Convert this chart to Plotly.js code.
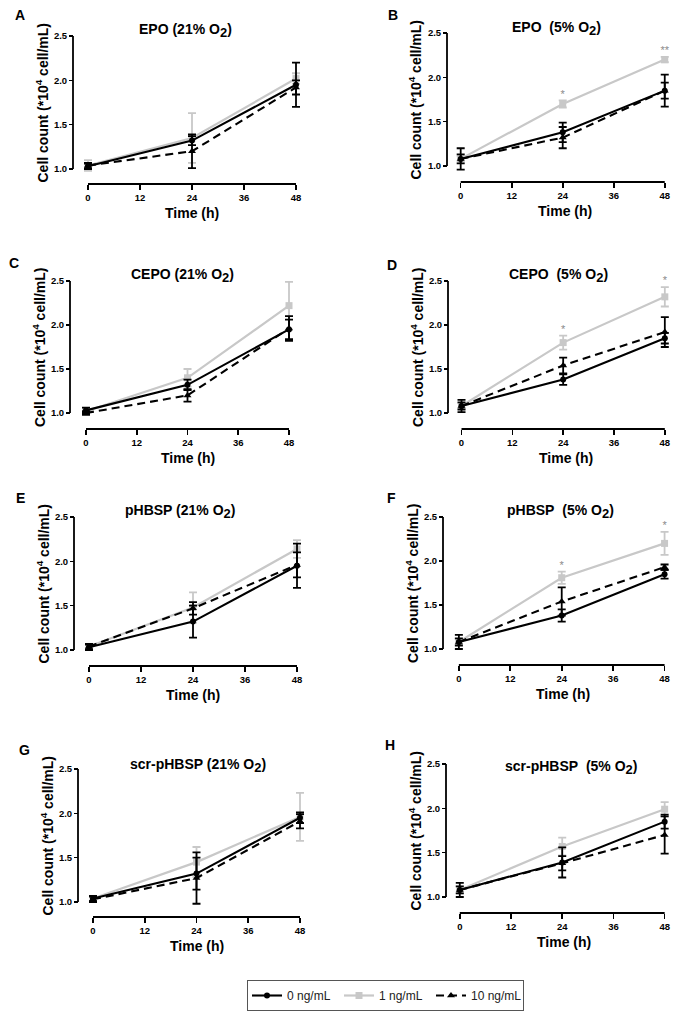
<!DOCTYPE html>
<html>
<head>
<meta charset="utf-8">
<script src="https://cdn.plot.ly/plotly-3.0.1.min.js"></script>
<style>html,body{margin:0;padding:0;background:#fff;}#chart{width:686px;height:1019px;}</style>
</head>
<body>
<div id="chart"></div>
<script>
// ---------- data ----------
const time = [0, 24, 48];
const xTicks = [0, 12, 24, 36, 48];
const yTicks = [1.0, 1.5, 2.0, 2.5];
const yTickText = ['1.0', '1.5', '2.0', '2.5'];
const seriesNames = ['0 ng/mL', '1 ng/mL', '10 ng/mL'];
const panelLetters = ['A', 'B', 'C', 'D', 'E', 'F', 'G', 'H'];
const O2 = 'O<sub><span style="font-size:13px">2</span></sub>';
const panelTitles = [
  'EPO (21% ' + O2 + ')', 'EPO\u00a0 (5% ' + O2 + ')',
  'CEPO (21% ' + O2 + ')', 'CEPO\u00a0 (5% ' + O2 + ')',
  'pHBSP (21% ' + O2 + ')', 'pHBSP\u00a0 (5% ' + O2 + ')',
  'scr-pHBSP (21% ' + O2 + ')', 'scr-pHBSP\u00a0 (5% ' + O2 + ')'
];
const yTitle = 'Cell count (*10<sup>4</sup> cell/mL)';
const xTitle = 'Time (h)';

// EPO 21%
const epo21_0 = [1.03, 1.32, 1.95], epo21_0_sd = [0.03, 0.05, 0.25];
const epo21_1 = [1.04, 1.35, 2.02], epo21_1_sd = [0.06, 0.28, 0.06];
const epo21_10 = [1.04, 1.20, 1.92], epo21_10_sd = [0.03, 0.19, 0.08];
const epo21_sig = ['', '', ''];
// EPO 5%
const epo5_0 = [1.08, 1.38, 1.85], epo5_0_sd = [0.12, 0.11, 0.18];
const epo5_1 = [1.08, 1.70, 2.20], epo5_1_sd = [0.03, 0.04, 0.03];
const epo5_10 = [1.08, 1.32, 1.85], epo5_10_sd = [0.05, 0.12, 0.09];
const epo5_sig = ['', '*', '**'];
// CEPO 21%
const cepo21_0 = [1.03, 1.32, 1.95], cepo21_0_sd = [0.03, 0.06, 0.11];
const cepo21_1 = [1.02, 1.40, 2.22], cepo21_1_sd = [0.03, 0.10, 0.27];
const cepo21_10 = [1.00, 1.20, 1.96], cepo21_10_sd = [0.02, 0.07, 0.14];
const cepo21_sig = ['', '', ''];
// CEPO 5%
const cepo5_0 = [1.08, 1.38, 1.85], cepo5_0_sd = [0.07, 0.06, 0.06];
const cepo5_1 = [1.08, 1.80, 2.32], cepo5_1_sd = [0.03, 0.08, 0.11];
const cepo5_10 = [1.08, 1.54, 1.92], cepo5_10_sd = [0.04, 0.09, 0.17];
const cepo5_sig = ['', '*', '*'];
// pHBSP 21%
const phbsp21_0 = [1.03, 1.32, 1.95], phbsp21_0_sd = [0.03, 0.18, 0.25];
const phbsp21_1 = [1.04, 1.48, 2.14], phbsp21_1_sd = [0.03, 0.17, 0.10];
const phbsp21_10 = [1.04, 1.47, 1.96], phbsp21_10_sd = [0.03, 0.07, 0.14];
const phbsp21_sig = ['', '', ''];
// pHBSP 5%
const phbsp5_0 = [1.08, 1.38, 1.85], phbsp5_0_sd = [0.08, 0.07, 0.05];
const phbsp5_1 = [1.08, 1.81, 2.20], phbsp5_1_sd = [0.03, 0.07, 0.13];
const phbsp5_10 = [1.08, 1.54, 1.93], phbsp5_10_sd = [0.04, 0.16, 0.03];
const phbsp5_sig = ['', '*', '*'];
// scr-pHBSP 21%
const scr21_0 = [1.04, 1.32, 1.95], scr21_0_sd = [0.03, 0.18, 0.06];
const scr21_1 = [1.04, 1.45, 1.96], scr21_1_sd = [0.03, 0.17, 0.27];
const scr21_10 = [1.03, 1.27, 1.91], scr21_10_sd = [0.03, 0.29, 0.08];
const scr21_sig = ['', '', ''];
// scr-pHBSP 5%
const scr5_0 = [1.08, 1.39, 1.85], scr5_0_sd = [0.08, 0.17, 0.08];
const scr5_1 = [1.08, 1.57, 1.99], scr5_1_sd = [0.04, 0.10, 0.08];
const scr5_10 = [1.08, 1.38, 1.70], scr5_10_sd = [0.04, 0.08, 0.21];
const scr5_sig = ['', '', ''];

const panelData = [
  {m0: epo21_0, s0: epo21_0_sd, m1: epo21_1, s1: epo21_1_sd, m10: epo21_10, s10: epo21_10_sd, sig: epo21_sig},
  {m0: epo5_0, s0: epo5_0_sd, m1: epo5_1, s1: epo5_1_sd, m10: epo5_10, s10: epo5_10_sd, sig: epo5_sig},
  {m0: cepo21_0, s0: cepo21_0_sd, m1: cepo21_1, s1: cepo21_1_sd, m10: cepo21_10, s10: cepo21_10_sd, sig: cepo21_sig},
  {m0: cepo5_0, s0: cepo5_0_sd, m1: cepo5_1, s1: cepo5_1_sd, m10: cepo5_10, s10: cepo5_10_sd, sig: cepo5_sig},
  {m0: phbsp21_0, s0: phbsp21_0_sd, m1: phbsp21_1, s1: phbsp21_1_sd, m10: phbsp21_10, s10: phbsp21_10_sd, sig: phbsp21_sig},
  {m0: phbsp5_0, s0: phbsp5_0_sd, m1: phbsp5_1, s1: phbsp5_1_sd, m10: phbsp5_10, s10: phbsp5_10_sd, sig: phbsp5_sig},
  {m0: scr21_0, s0: scr21_0_sd, m1: scr21_1, s1: scr21_1_sd, m10: scr21_10, s10: scr21_10_sd, sig: scr21_sig},
  {m0: scr5_0, s0: scr5_0_sd, m1: scr5_1, s1: scr5_1_sd, m10: scr5_10, s10: scr5_10_sd, sig: scr5_sig}
];

// ---------- geometry (pixels in the 686x1019 page) ----------
const W = 686, H = 1019;
const geo = [
  {ax: 73,  x0: 88,  x48: 296, y1: 169, y25: 36,  xy: 184, tx: 185, ty: 30,  lx: 20,  ly: 15},
  {ax: 447, x0: 461, x48: 668, y1: 166, y25: 33,  xy: 182, tx: 556, ty: 29,  lx: 393, ly: 15},
  {ax: 70,  x0: 86,  x48: 289, y1: 413, y25: 281, xy: 429, tx: 182, ty: 275, lx: 14,  ly: 263},
  {ax: 448, x0: 462, x48: 670, y1: 413, y25: 281, xy: 429, tx: 558, ty: 275, lx: 392, ly: 265},
  {ax: 74,  x0: 89,  x48: 297, y1: 650, y25: 517, xy: 666, tx: 180, ty: 512, lx: 20,  ly: 498},
  {ax: 443, x0: 459, x48: 666, y1: 649, y25: 517, xy: 665, tx: 560, ty: 512, lx: 391, ly: 498},
  {ax: 78,  x0: 93,  x48: 300, y1: 902, y25: 769, xy: 917, tx: 198, ty: 765, lx: 24,  ly: 750},
  {ax: 446, x0: 460, x48: 667, y1: 897, y25: 764, xy: 913, tx: 571, ty: 767, lx: 390, ly: 745}
];
const xRange = [-5, 53];
const yRange = [0.85, 2.6];

const FONT = 'Liberation Sans, Arial, Helvetica, sans-serif';
const BLACK = '#000000';
const GRAY = '#c8c8c8';
const SIGGRAY = '#8a8a8a';

const traces = [];
const annotations = [];
const shapes = [];
const layout = {
  width: W, height: H,
  margin: {l: 0, r: 0, t: 0, b: 0},
  paper_bgcolor: '#ffffff', plot_bgcolor: 'rgba(0,0,0,0)',
  font: {family: FONT, color: BLACK},
  showlegend: true,
  legend: {
    orientation: 'h', x: 247 / W, y: 1 - 980 / H, xanchor: 'left', yanchor: 'top',
    bordercolor: '#555555', borderwidth: 1, bgcolor: '#ffffff',
    font: {family: FONT, size: 12, color: '#222222'},
    entrywidth: 47, entrywidthmode: 'pixels', itemwidth: 30
  }
};

const tx0 = xTicks[0], tx1 = xTicks[xTicks.length - 1];
const ty0 = yTicks[0], ty1 = yTicks[yTicks.length - 1];

geo.forEach((g, i) => {
  const s = i === 0 ? '' : String(i + 1);
  const xa = 'x' + s, ya = 'y' + s;
  const pxH = (g.x48 - g.x0) / (tx1 - tx0);
  const pxU = (g.y1 - g.y25) / (ty1 - ty0);
  const left = g.x0 + (xRange[0] - tx0) * pxH;
  const right = g.x0 + (xRange[1] - tx0) * pxH;
  const top = g.y25 - (yRange[1] - ty1) * pxU;
  const bottom = g.y1 + (ty0 - yRange[0]) * pxU;

  layout['xaxis' + s] = {
    domain: [left / W, right / W], range: xRange,
    anchor: 'free', position: 1 - g.xy / H,
    showline: false, zeroline: false, showgrid: false,
    ticks: 'outside', ticklen: 5, tickwidth: 1.6, tickcolor: BLACK,
    tickmode: 'array', tickvals: xTicks, ticktext: xTicks.map(String),
    tickfont: {family: FONT, size: 9.5, color: BLACK, weight: 'bold'},
    fixedrange: true
  };
  layout['yaxis' + s] = {
    domain: [1 - bottom / H, 1 - top / H], range: yRange,
    anchor: 'free', position: g.ax / W,
    showline: false, zeroline: false, showgrid: false,
    ticks: 'outside', ticklen: 4, tickwidth: 1.6, tickcolor: BLACK,
    tickmode: 'array', tickvals: yTicks, ticktext: yTickText,
    tickfont: {family: FONT, size: 9.5, color: BLACK, weight: 'bold'},
    fixedrange: true
  };
  shapes.push({type: 'line', xref: 'paper', yref: ya, x0: g.ax / W, x1: g.ax / W, y0: ty0, y1: ty1,
    line: {color: BLACK, width: 1.8}});
  shapes.push({type: 'line', xref: xa, yref: 'paper', x0: tx0, x1: tx1, y0: 1 - g.xy / H, y1: 1 - g.xy / H,
    line: {color: BLACK, width: 1.8}});

  const d = panelData[i];
  const show = i === 0;
  traces.push({
    type: 'scatter', mode: 'lines+markers', x: time, y: d.m1, xaxis: xa, yaxis: ya,
    name: seriesNames[1], legendrank: 2, showlegend: show, legendgroup: 'g1', cliponaxis: false,
    line: {color: GRAY, width: 2.2}, marker: {symbol: 'square', size: 7, color: GRAY},
    error_y: {type: 'data', array: d.s1, visible: true, color: GRAY, thickness: 1.8, width: 4}
  });
  traces.push({
    type: 'scatter', mode: 'lines+markers', x: time, y: d.m10, xaxis: xa, yaxis: ya,
    name: seriesNames[2], legendrank: 3, showlegend: show, legendgroup: 'g10', cliponaxis: false,
    line: {color: BLACK, width: 2.1, dash: '8px,5px'}, marker: {symbol: 'triangle-up', size: 7, color: BLACK},
    error_y: {type: 'data', array: d.s10, visible: true, color: BLACK, thickness: 1.8, width: 4}
  });
  traces.push({
    type: 'scatter', mode: 'lines+markers', x: time, y: d.m0, xaxis: xa, yaxis: ya,
    name: seriesNames[0], legendrank: 1, showlegend: show, legendgroup: 'g0', cliponaxis: false,
    line: {color: BLACK, width: 2.1}, marker: {symbol: 'circle', size: 6, color: BLACK},
    error_y: {type: 'data', array: d.s0, visible: true, color: BLACK, thickness: 1.8, width: 4}
  });
  // significance marks above the 1 ng/mL series (only where there is a mark)
  const idx = d.sig.map((t, k) => k).filter(k => d.sig[k] !== '');
  if (idx.length) {
    traces.push({
      type: 'scatter', mode: 'text', x: idx.map(k => time[k]), y: idx.map(k => d.m1[k] + d.s1[k]),
      xaxis: xa, yaxis: ya,
      text: idx.map(k => d.sig[k]), textposition: 'top center', showlegend: false, hoverinfo: 'skip', cliponaxis: false,
      textfont: {family: FONT, size: 11, color: SIGGRAY}
    });
  }

  annotations.push({xref: 'paper', yref: 'paper', x: g.tx / W, y: 1 - g.ty / H, xanchor: 'center', yanchor: 'middle',
    text: panelTitles[i], showarrow: false, font: {family: FONT, size: 14, color: BLACK, weight: 'bold'}});
  annotations.push({xref: 'paper', yref: 'paper', x: g.lx / W, y: 1 - g.ly / H, xanchor: 'center', yanchor: 'middle',
    text: panelLetters[i], showarrow: false, font: {family: FONT, size: 14, color: BLACK, weight: 'bold'}});
  annotations.push({xref: 'paper', yref: 'paper', x: (g.ax - 31) / W, y: 1 - ((g.y1 + g.y25) / 2) / H,
    xanchor: 'center', yanchor: 'middle', textangle: -90,
    text: yTitle, showarrow: false, font: {family: FONT, size: 14, color: BLACK, weight: 'bold'}});
  annotations.push({xref: 'paper', yref: 'paper', x: ((g.x0 + g.x48) / 2) / W, y: 1 - (g.xy + 29) / H,
    xanchor: 'center', yanchor: 'middle',
    text: xTitle, showarrow: false, font: {family: FONT, size: 14, color: BLACK, weight: 'bold'}});
});

layout.annotations = annotations;
layout.shapes = shapes;

Plotly.newPlot('chart', traces, layout, {staticPlot: true, displayModeBar: false});
</script>
</body>
</html>
